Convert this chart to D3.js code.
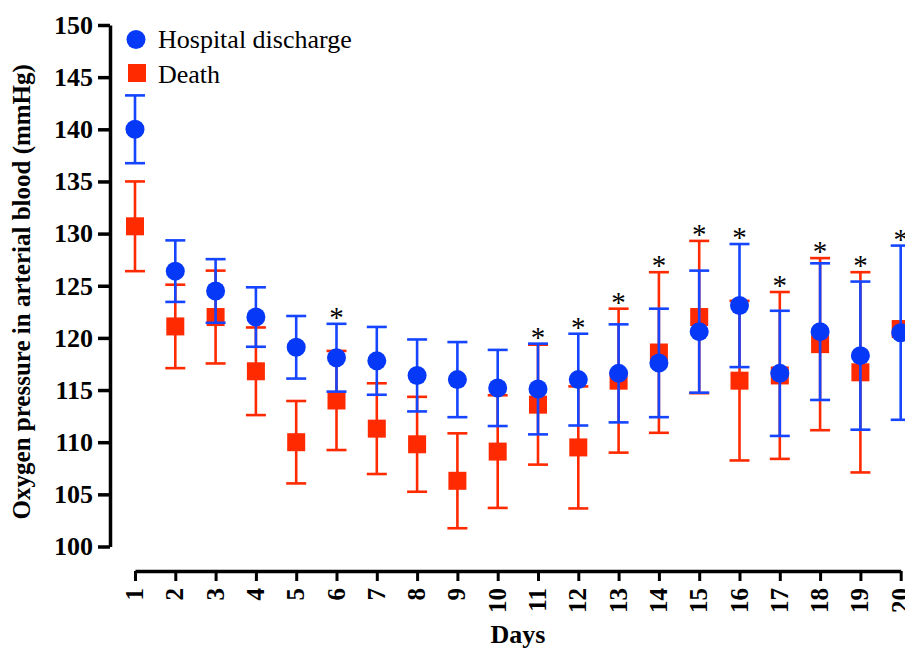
<!DOCTYPE html>
<html>
<head>
<meta charset="utf-8">
<script src="https://cdn.jsdelivr.net/npm/d3@7"></script>
<style>
  html, body { margin: 0; padding: 0; background: #fff; overflow: hidden; }
  svg { display: block; }
  text { font-family: "Liberation Serif", "Times New Roman", serif; fill: #000; }
</style>
</head>
<body>
<svg id="chart" width="905" height="648"></svg>
<script>
// data.
var days = [1, 2, 3, 4, 5, 6, 7, 8, 9, 10, 11, 12, 13, 14, 15, 16, 17, 18, 19, 20];
var dischargeMean = [140.0, 126.4, 124.5, 122.0, 119.1, 118.1, 117.8, 116.4, 116.0, 115.2,
                     115.1, 116.0, 116.6, 117.6, 120.6, 123.1, 116.6, 120.6, 118.3, 120.5];
var dischargeErr = [3.25, 2.95, 3.05, 2.85, 3.0, 3.25, 3.25, 3.45, 3.6, 3.65,
                    4.35, 4.4, 4.7, 5.2, 5.85, 5.9, 6.0, 6.55, 7.1, 8.35];
var deathMean = [130.7, 121.1, 122.0, 116.8, 110.0, 114.0, 111.3, 109.8, 106.3, 109.1,
                 113.6, 109.5, 115.9, 118.6, 122.0, 115.9, 116.4, 119.4, 116.7, 120.85];
var deathErr = [4.3, 4.0, 4.45, 4.2, 3.95, 4.75, 4.35, 4.55, 4.55, 5.4,
                5.75, 5.85, 6.9, 7.7, 7.3, 7.65, 8.0, 8.25, 9.6, null];
var significantDays = [6, 11, 12, 13, 14, 15, 16, 17, 18, 19, 20];
var yTicks = [100, 105, 110, 115, 120, 125, 130, 135, 140, 145, 150];
var seriesNames = ["Hospital discharge", "Death"];

var blue = "#0638f8";
var blueBar = "#1545ff";
var red = "#ff2a00";

var svg = d3.select("#chart");

var x = d3.scaleLinear().domain([1, 20]).range([135, 900.7]);
var y = d3.scaleLinear().domain([100, 150]).range([546.5, 25]);

// y axis.
var yAxis = d3.axisLeft(y).tickValues(yTicks).tickSize(12).tickSizeOuter(0).tickPadding(5);
var yAxisG = svg.append("g").attr("transform", "translate(110,0)").call(yAxis);
yAxisG.select(".domain").attr("stroke", "#000").attr("stroke-width", 3.5);
yAxisG.selectAll(".tick line").attr("stroke", "#000").attr("stroke-width", 3.5);
yAxisG.selectAll(".tick text")
  .attr("font-family", "Liberation Serif, Times New Roman, serif")
  .attr("font-size", 26).attr("font-weight", "bold").attr("fill", "#000");

// x axis, labels turned to read upwards.
var xAxis = d3.axisBottom(x).tickValues(days).tickFormat(d3.format("d")).tickSize(10).tickSizeOuter(0);
var xAxisG = svg.append("g").attr("transform", "translate(0,571)").call(xAxis);
xAxisG.select(".domain").attr("stroke", "#000").attr("stroke-width", 3.5);
xAxisG.selectAll(".tick line").attr("stroke", "#000").attr("stroke-width", 3);
xAxisG.selectAll(".tick text")
  .attr("font-family", "Liberation Serif, Times New Roman, serif")
  .attr("font-size", 25).attr("font-weight", "bold").attr("fill", "#000")
  .attr("text-anchor", "end").attr("dy", null).attr("y", 0)
  .attr("transform", "translate(7.5,17) rotate(-90)");

// axis titles.
svg.append("text")
  .attr("transform", "translate(30," + ((25 + 546.5) / 2 + 6) + ") rotate(-90)")
  .attr("text-anchor", "middle").attr("font-size", 25).attr("font-weight", "bold")
  .text("Oxygen pressure in arterial blood (mmHg)");
svg.append("text")
  .attr("x", (135 + 900.7) / 2).attr("y", 643)
  .attr("text-anchor", "middle").attr("font-size", 26).attr("font-weight", "bold")
  .text("Days");

// error bars, death first so discharge sits on top.
var capHalf = 10;
var drawBars = function(means, errs, color) {
  var rows = days.map(function(d, i) { return {day: d, mean: means[i], err: errs[i]}; })
    .filter(function(r) { return r.err !== null; });
  var g = svg.append("g").attr("stroke", color).attr("stroke-width", 2.6).attr("fill", "none");
  rows.forEach(function(r) {
    var hi = y(r.mean + r.err), lo = y(r.mean - r.err), cx = x(r.day);
    g.append("line").attr("x1", cx).attr("x2", cx).attr("y1", hi).attr("y2", lo);
    g.append("line").attr("x1", cx - capHalf).attr("x2", cx + capHalf).attr("y1", hi).attr("y2", hi);
    g.append("line").attr("x1", cx - capHalf).attr("x2", cx + capHalf).attr("y1", lo).attr("y2", lo);
  });
};

drawBars(deathMean, deathErr, red);
svg.append("g").selectAll("rect").data(days).enter().append("rect")
  .attr("x", function(d, i) { return x(d) - 9; })
  .attr("y", function(d, i) { return y(deathMean[i]) - 9; })
  .attr("width", 18).attr("height", 18)
  .attr("fill", red);

drawBars(dischargeMean, dischargeErr, blueBar);
svg.append("g").selectAll("circle").data(days).enter().append("circle")
  .attr("cx", function(d) { return x(d); })
  .attr("cy", function(d, i) { return y(dischargeMean[i]); })
  .attr("r", 9.5)
  .attr("fill", blue);

// significance stars above the highest cap.
svg.append("g").selectAll("text").data(significantDays).enter().append("text")
  .attr("x", function(d) { return x(d); })
  .attr("y", function(d) {
    var i = days.indexOf(d);
    var top = dischargeMean[i] + dischargeErr[i];
    if (deathErr[i] !== null) top = Math.max(top, deathMean[i] + deathErr[i]);
    return y(top) + 3;
  })
  .attr("text-anchor", "middle").attr("font-size", 29)
  .text("*");

// legend.
var legend = svg.append("g");
legend.append("circle").attr("cx", 136).attr("cy", 39.5).attr("r", 9.5).attr("fill", blue);
legend.append("rect").attr("x", 128).attr("y", 64).attr("width", 18).attr("height", 18).attr("fill", red);
legend.append("text").attr("x", 158).attr("y", 48).attr("font-size", 26).text(seriesNames[0]);
legend.append("text").attr("x", 158).attr("y", 82.5).attr("font-size", 26).text(seriesNames[1]);
</script>
</body>
</html>
